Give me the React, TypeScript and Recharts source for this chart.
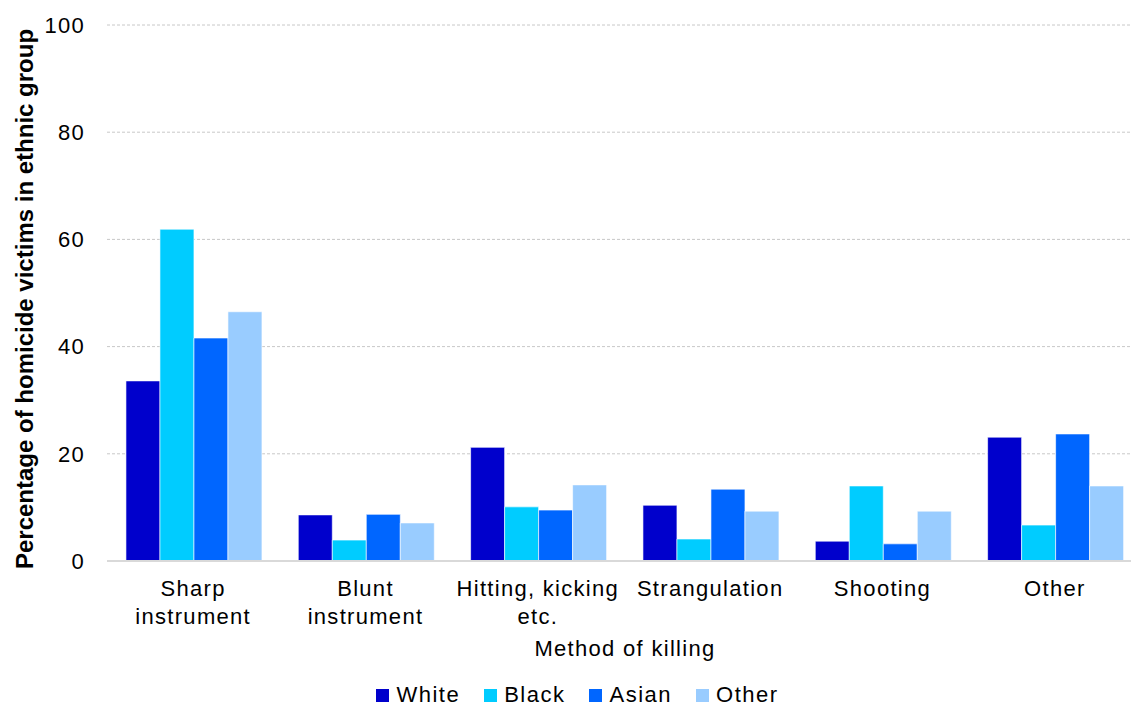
import {
  BarChart,
  Bar,
  XAxis,
  YAxis,
  CartesianGrid,
  Legend,
  ReferenceLine,
} from 'recharts';

// categories (method of killing), two-line labels split with \n
const methods = [
  'Sharp\ninstrument',
  'Blunt\ninstrument',
  'Hitting, kicking\netc.',
  'Strangulation',
  'Shooting',
  'Other',
];

// % of homicide victims in each ethnic group
const white = [33.6, 8.6, 21.2, 10.4, 3.7, 23.1];
const black = [61.9, 3.9, 10.1, 4.1, 14.0, 6.7];
const asian = [41.6, 8.7, 9.5, 13.4, 3.2, 23.7];
const other = [46.5, 7.1, 14.2, 9.3, 9.3, 14.0];

const yTicks = [0, 20, 40, 60, 80, 100];

const series = [
  { key: 'white', name: 'White', color: '#0000CC' },
  { key: 'black', name: 'Black', color: '#00CCFF' },
  { key: 'asian', name: 'Asian', color: '#0066FF' },
  { key: 'other', name: 'Other', color: '#99CCFF' },
];

const data = methods.map((m, i) => ({
  method: m,
  white: white[i],
  black: black[i],
  asian: asian[i],
  other: other[i],
}));

const FONT = '"Liberation Sans", Arial, sans-serif';

function MethodTick(props: any) {
  const { x, y, payload } = props;
  const lines = String(payload.value).split('\n');
  return (
    <text
      x={x}
      y={y}
      textAnchor="middle"
      fill="#000"
      fontSize={22}
      fontFamily={FONT}
      letterSpacing={1.3}
    >
      {lines.map((l, i) => (
        <tspan key={i} x={x} dy={i === 0 ? 27 : 28}>
          {l}
        </tspan>
      ))}
    </text>
  );
}

function LegendBox() {
  return (
    <div
      style={{
        display: 'flex',
        justifyContent: 'center',
        gap: 24,
        fontFamily: FONT,
        fontSize: 22,
        lineHeight: '20px',
        letterSpacing: 1.5,
        paddingTop: 14,
        paddingLeft: 14,
        color: '#000',
      }}
    >
      {series.map((s) => (
        <div key={s.key} style={{ display: 'flex', alignItems: 'center' }}>
          <span
            style={{
              display: 'inline-block',
              width: 13,
              height: 13,
              background: s.color,
              marginRight: 7,
            }}
          />
          {s.name}
        </div>
      ))}
    </div>
  );
}

export default function App() {
  return (
    <div style={{ position: 'absolute', left: 0, top: 0, background: '#fff', overflow: 'hidden', width: 1131, height: 707 }}>
      <BarChart
        width={1131}
        height={707}
        data={data}
        margin={{ top: 25, right: -10, left: 0, bottom: 0 }}
        barCategoryGap="11%"
        barGap={0}
      >
        <CartesianGrid
          vertical={false}
          stroke="#c8c8c8"
          strokeDasharray="3 2"
        />
        <XAxis
          dataKey="method"
          height={110}
          tick={<MethodTick />}
          tickLine={false}
          axisLine={false}
          interval={0}
          label={{
            content: ({ viewBox }: any) => (
              <text
                x={625}
                y={viewBox.y + 95}
                textAnchor="middle"
                fontSize={22}
                fontFamily={FONT}
                letterSpacing={1.3}
                fill="#000"
              >
                Method of killing
              </text>
            ),
          }}
        />
        <YAxis
          domain={[0, 100]}
          ticks={yTicks}
          width={107}
          tickLine={false}
          axisLine={false}
          tickSize={0}
          tickMargin={22}
          tick={{ fill: '#000', fontSize: 22, fontFamily: FONT, letterSpacing: 1.3 }}
          label={{
            content: () => (
              <text
                x={0}
                y={0}
                transform="translate(33, 299) rotate(-90)"
                textAnchor="middle"
                fontSize={24}
                fontWeight="bold"
                fontFamily={FONT}
                fill="#000"
              >
                Percentage of homicide victims in ethnic group
              </text>
            ),
          }}
        />
        <ReferenceLine y={0} stroke="#d9d9d9" strokeWidth={2} />
        <Legend verticalAlign="bottom" height={36} content={<LegendBox />} />
        {series.map((s) => (
          <Bar
            key={s.key}
            dataKey={s.key}
            name={s.name}
            fill={s.color}
            stroke="#ffffff"
            strokeOpacity={0.6}
            strokeWidth={1}
            isAnimationActive={false}
          />
        ))}
      </BarChart>
    </div>
  );
}
